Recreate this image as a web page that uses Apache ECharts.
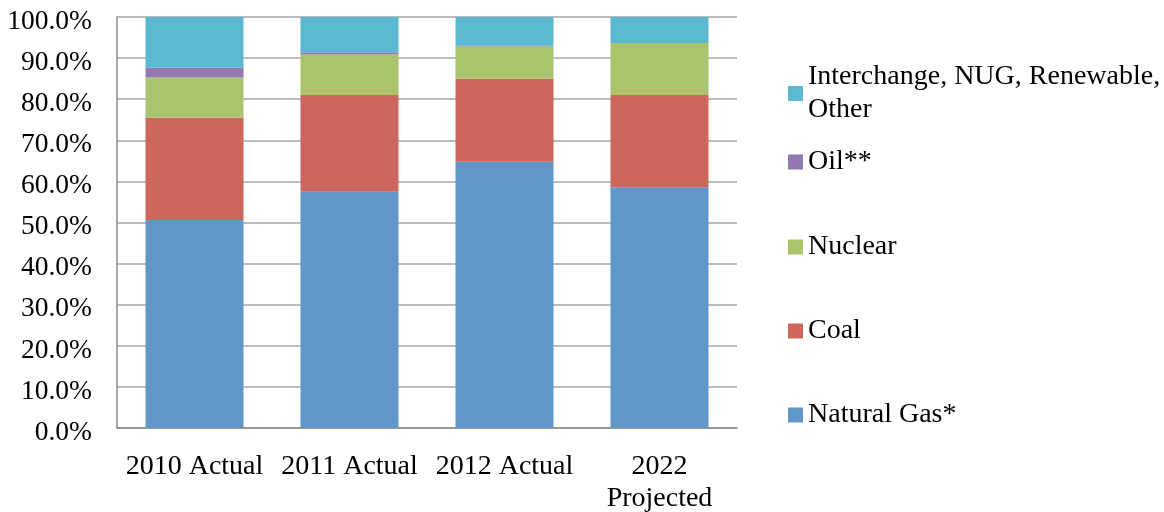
<!DOCTYPE html>
<html>
<head>
<meta charset="utf-8">
<script src="https://cdn.jsdelivr.net/npm/echarts@6/dist/echarts.min.js"></script>
<style>html,body{margin:0;padding:0;background:#fff;}#c{width:1164px;height:512px;}</style>
</head>
<body>
<div id="c"></div>
<script>
var categories = ['2010 Actual', '2011 Actual', '2012 Actual', '2022\nProjected'];
var naturalGas = [50.6, 57.5, 64.8, 58.6];
var coal = [24.9, 23.5, 20.2, 22.4];
var nuclear = [9.8, 9.9, 7.8, 12.7];
var oil = [2.4, 0.5, 0.2, 0.0];
var other = [12.3, 8.6, 7.0, 6.3];
var yTicks = [0, 10, 20, 30, 40, 50, 60, 70, 80, 90, 100];

var seriesNames = ['Natural Gas*', 'Coal', 'Nuclear', 'Oil**', 'Interchange, NUG, Renewable, Other'];
var seriesData = [naturalGas, coal, nuclear, oil, other];
var colors = ['#6196C8', '#CD665D', '#AAC46C', '#9279B1', '#5AB9D1'];

var font = 'Liberation Serif, Times New Roman, serif';
var chart = echarts.init(document.getElementById('c'));

var series = seriesNames.map(function (n, i) {
  return {
    name: n, type: 'bar', stack: 'total', barWidth: 98,
    data: seriesData[i], itemStyle: { color: colors[i] }
  };
});

function leg(name, top) {
  return {
    orient: 'vertical', left: 783, top: top, itemWidth: 15, itemHeight: 15, itemGap: 0,
    icon: 'rect',
    textStyle: { fontFamily: font, fontSize: 28, color: '#000' },
    data: [name]
  };
}

var legends = [
  {
    orient: 'vertical', left: 783, top: 39, itemWidth: 15, itemHeight: 15, icon: 'rect',
    textStyle: { fontFamily: font, fontSize: 28, color: '#000', lineHeight: 33, padding: [33, 0, 0, 0] },
    formatter: function () { return 'Interchange, NUG, Renewable,\nOther'; },
    data: ['Interchange, NUG, Renewable, Other']
  },
  leg('Oil**', 143),
  leg('Nuclear', 228),
  leg('Coal', 312),
  leg('Natural Gas*', 396)
];

chart.setOption({
  animation: false,
  color: colors,
  legend: legends,
  grid: { left: 117, right: 427, top: 17, bottom: 84, outerBoundsMode: 'none', containLabel: false },
  xAxis: {
    type: 'category', data: categories,
    axisLine: { lineStyle: { color: '#8c8c8c', width: 1.5 } },
    axisTick: { show: false },
    axisLabel: { interval: 0, fontFamily: font, fontSize: 28, color: '#000', margin: 23, lineHeight: 32 }
  },
  yAxis: {
    type: 'value', min: 0, max: 100, interval: 10,
    axisLine: { show: true, lineStyle: { color: '#8c8c8c', width: 1.5 } },
    axisTick: { show: false },
    splitLine: { lineStyle: { color: '#a6a6a6', width: 1.5 } },
    axisLabel: {
      fontFamily: font, fontSize: 27.5, color: '#000', margin: 25,
      formatter: function (v) { return yTicks.indexOf(v) >= 0 ? '{v|' + v.toFixed(1) + '%}' : ''; },
      rich: { v: { fontFamily: font, fontSize: 27.5, color: '#000', padding: [9, 0, 0, 0] } }
    }
  },
  series: series
});
</script>
</body>
</html>
